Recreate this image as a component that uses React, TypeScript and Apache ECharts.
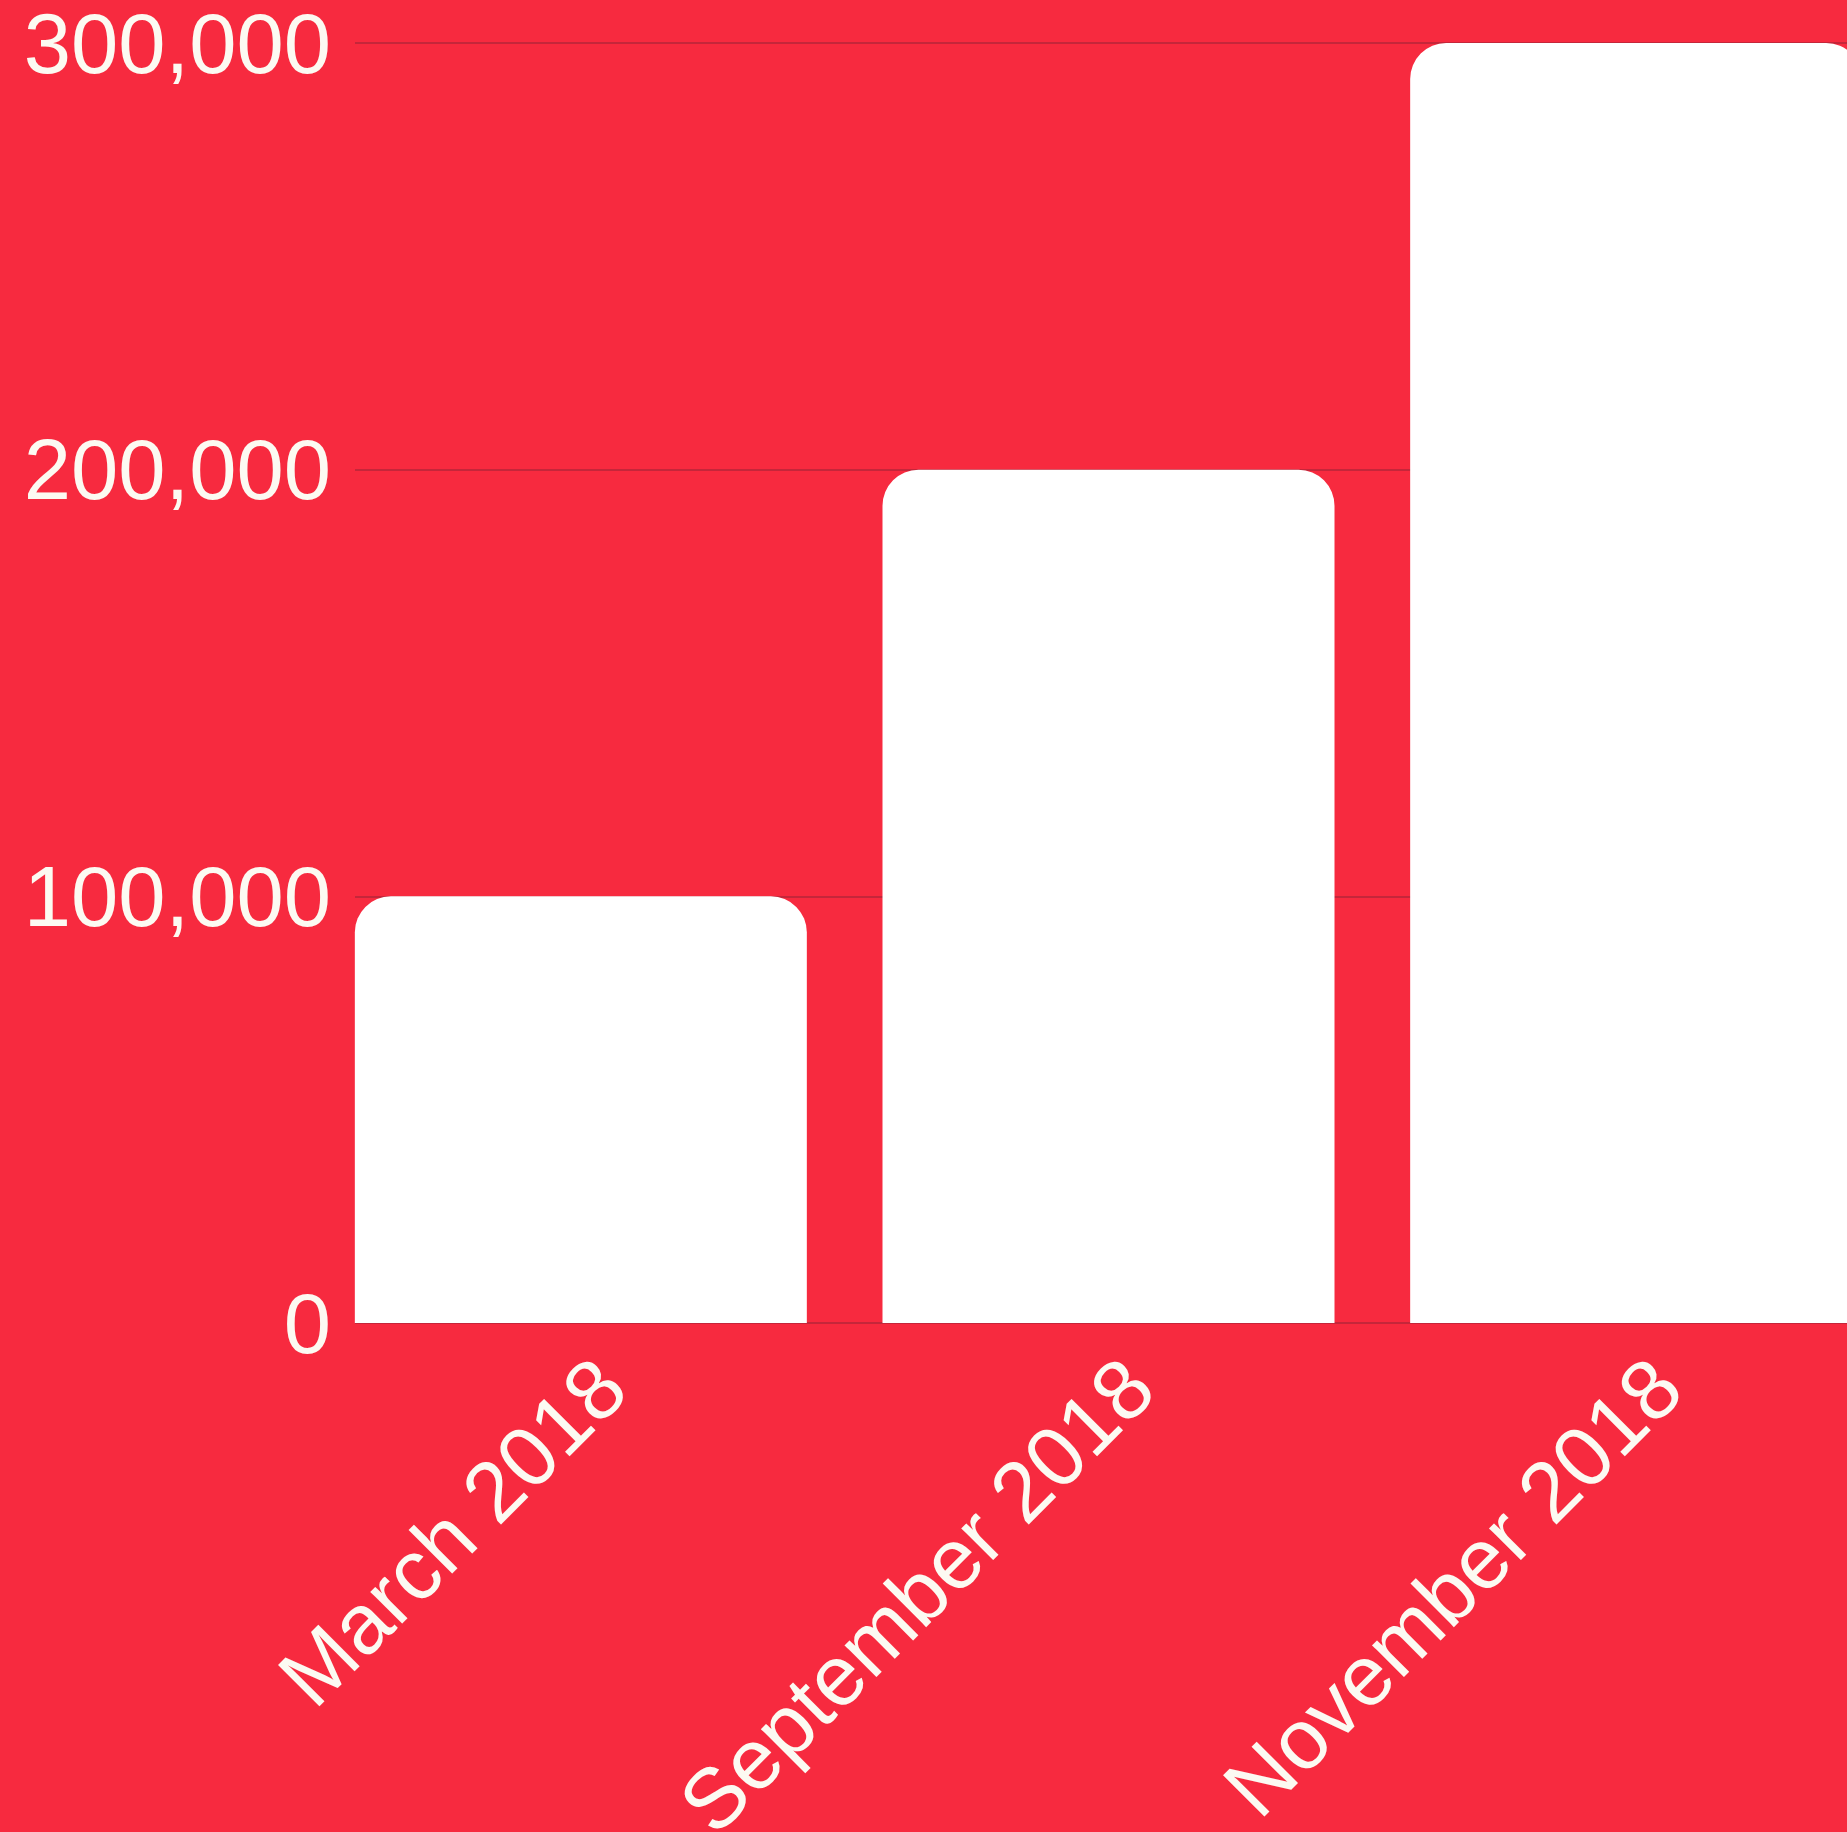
import React, { useEffect, useRef } from "react";
import * as echarts from "echarts";

const categories = ["March 2018", "September 2018", "November 2018"];
const values = [100000, 200000, 300000];
const yMin = 0;
const yMax = 300000;
const yInterval = 100000;

const BG = "#F72A3F";
const TEXT = "#FCFAF2";
const GRIDLINE = "#C5263A";
const FONT = "Liberation Sans";

export default function App() {
  const ref = useRef<HTMLDivElement>(null);

  useEffect(() => {
    document.body.style.margin = "0";
    const chart = echarts.init(ref.current!, undefined, { renderer: "svg" });
    chart.setOption({
      animation: false,
      backgroundColor: BG,
      grid: [
        {
          left: 317,
          top: 43,
          width: 1583,
          height: 1280,
          containLabel: false,
          outerBoundsMode: "none",
        },
        {
          left: 355,
          top: 43,
          right: 0,
          height: 1280,
          containLabel: false,
          outerBoundsMode: "none",
        },
      ],
      xAxis: [
        {
          type: "category",
          gridIndex: 0,
          data: categories,
          axisLine: { show: false },
          axisTick: { show: false },
          axisLabel: {
            rotate: 45,
            margin: 20,
            align: "right",
            verticalAlign: "top",
            color: TEXT,
            fontSize: 85,
            fontFamily: FONT,
            interval: 0,
          },
        },
        { type: "value", gridIndex: 1, show: false, min: 0, max: 1 },
      ],
      yAxis: [
        {
          type: "value",
          gridIndex: 0,
          min: yMin,
          max: yMax,
          interval: yInterval,
          show: false,
          splitLine: { show: false },
        },
        {
          type: "value",
          gridIndex: 1,
          min: yMin,
          max: yMax,
          interval: yInterval,
          axisLine: { show: false },
          axisTick: { show: false },
          axisLabel: {
            margin: 24,
            color: TEXT,
            fontSize: 85,
            fontFamily: FONT,
            formatter: (v: number) => v.toLocaleString("en-US"),
          },
          splitLine: { show: true, lineStyle: { color: GRIDLINE, width: 2 } },
        },
      ],
      series: [
        {
          type: "bar",
          xAxisIndex: 0,
          yAxisIndex: 0,
          data: values,
          barWidth: 452,
          itemStyle: { color: "#FFFFFF", borderRadius: [36, 36, 0, 0] },
          z: 3,
        },
      ],
    });
    return () => chart.dispose();
  }, []);

  return <div ref={ref} style={{ width: 1847, height: 1832 }} />;
}
